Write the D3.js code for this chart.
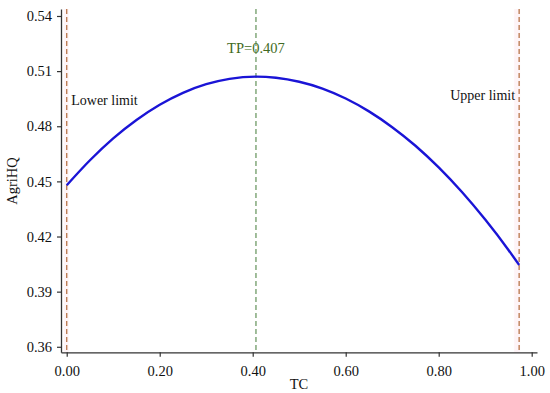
<!DOCTYPE html>
<html><head><meta charset="utf-8">
<script src="https://cdn.jsdelivr.net/npm/d3@7"></script>
<style>body{margin:0;background:#fff}svg{display:block}</style>
</head><body><svg id="c" width="550" height="393"></svg>
<script>
const tcValues = [0, 0.05, 0.10, 0.15, 0.20, 0.25, 0.30, 0.35, 0.407, 0.45, 0.50, 0.55, 0.60, 0.65, 0.70, 0.75, 0.80, 0.85, 0.90, 0.95, 0.973];
const agriHQValues = [0.4479, 0.4615, 0.4734, 0.4834, 0.4917, 0.4982, 0.5029, 0.5058, 0.5070, 0.5064, 0.5042, 0.5005, 0.4951, 0.4881, 0.4795, 0.4694, 0.4576, 0.4442, 0.4292, 0.4127, 0.4045];
const xTicks = [0, 0.2, 0.4, 0.6, 0.8, 1.0];
const yTicks = [0.36, 0.39, 0.42, 0.45, 0.48, 0.51, 0.54];
const lowerLimit = 0.0;
const upperLimit = 0.973;
const turningPoint = 0.407;
const labels = {x: "TC", y: "AgriHQ", lower: "Lower limit", upper: "Upper limit", tp: "TP=0.407"};

const svg = d3.select("#c");
const font = "'Liberation Serif','Times New Roman',serif";
const x = d3.scaleLinear().domain([-0.0123, 1.0114]).range([61, 537]);
const y = d3.scaleLinear().domain([0.357, 0.5438]).range([352.3, 9]);

// shaded bands near limits
svg.append("rect").attr("x", x(lowerLimit) - 3).attr("y", y(0.5438)).attr("width", 5)
  .attr("height", y(0.357) - y(0.5438)).attr("fill", "#fef4f7");
svg.append("rect").attr("x", x(upperLimit) - 5).attr("y", y(0.5438)).attr("width", 6)
  .attr("height", y(0.357) - y(0.5438)).attr("fill", "#fef4f7");

// vertical dashed lines
function vline(v, color) {
  svg.append("line").attr("x1", x(v)).attr("x2", x(v)).attr("y1", y(0.5438)).attr("y2", y(0.357))
    .attr("stroke", color).attr("stroke-width", 1.3).attr("stroke-dasharray", "5,3");
}
vline(lowerLimit, "#b8754a");
vline(upperLimit, "#b8754a");
vline(turningPoint, "#6f9a66");

// axes
const xAxis = svg.append("g").attr("transform", "translate(0,352.3)")
  .call(d3.axisBottom(x).tickValues(xTicks).tickFormat(d3.format(".2f")).tickSizeInner(4.5).tickSizeOuter(0).tickPadding(8.5));
const yAxis = svg.append("g").attr("transform", "translate(61,0)")
  .call(d3.axisLeft(y).tickValues(yTicks).tickFormat(d3.format(".2f")).tickSizeInner(4).tickSizeOuter(0).tickPadding(5));
[xAxis, yAxis].forEach(g => {
  g.select(".domain").attr("stroke", "#333").attr("stroke-width", 1.3);
  g.selectAll(".tick line").attr("stroke", "#333").attr("stroke-width", 1.2);
  g.selectAll(".tick text").attr("font-family", font).attr("font-size", "14.5px").attr("fill", "#111");
});

// curve
const pts = tcValues.map((t, i) => [t, agriHQValues[i]]);
svg.append("path").datum(pts)
  .attr("d", d3.line().x(d => x(d[0])).y(d => y(d[1])).curve(d3.curveMonotoneX))
  .attr("fill", "none").attr("stroke", "#1a14d6").attr("stroke-width", 2.4);

// annotations
svg.append("text").attr("x", x(lowerLimit) + 4.5).attr("y", 104.5).text(labels.lower)
  .attr("font-family", font).attr("font-size", "14px").attr("fill", "#111");
svg.append("text").attr("x", x(upperLimit) - 4).attr("y", 99.5).attr("text-anchor", "end").text(labels.upper)
  .attr("font-family", font).attr("font-size", "14px").attr("fill", "#111");
svg.append("text").attr("x", x(turningPoint)).attr("y", 52.5).attr("text-anchor", "middle").text(labels.tp)
  .attr("font-family", font).attr("font-size", "14.5px").attr("fill", "#3f6a22");

// axis titles
svg.append("text").attr("x", 299).attr("y", 389).attr("text-anchor", "middle").text(labels.x)
  .attr("font-family", font).attr("font-size", "14.5px").attr("fill", "#111");
svg.append("text").attr("transform", "translate(17,181) rotate(-90)").attr("text-anchor", "middle").text(labels.y)
  .attr("font-family", font).attr("font-size", "14.5px").attr("fill", "#111");
</script></body></html>
